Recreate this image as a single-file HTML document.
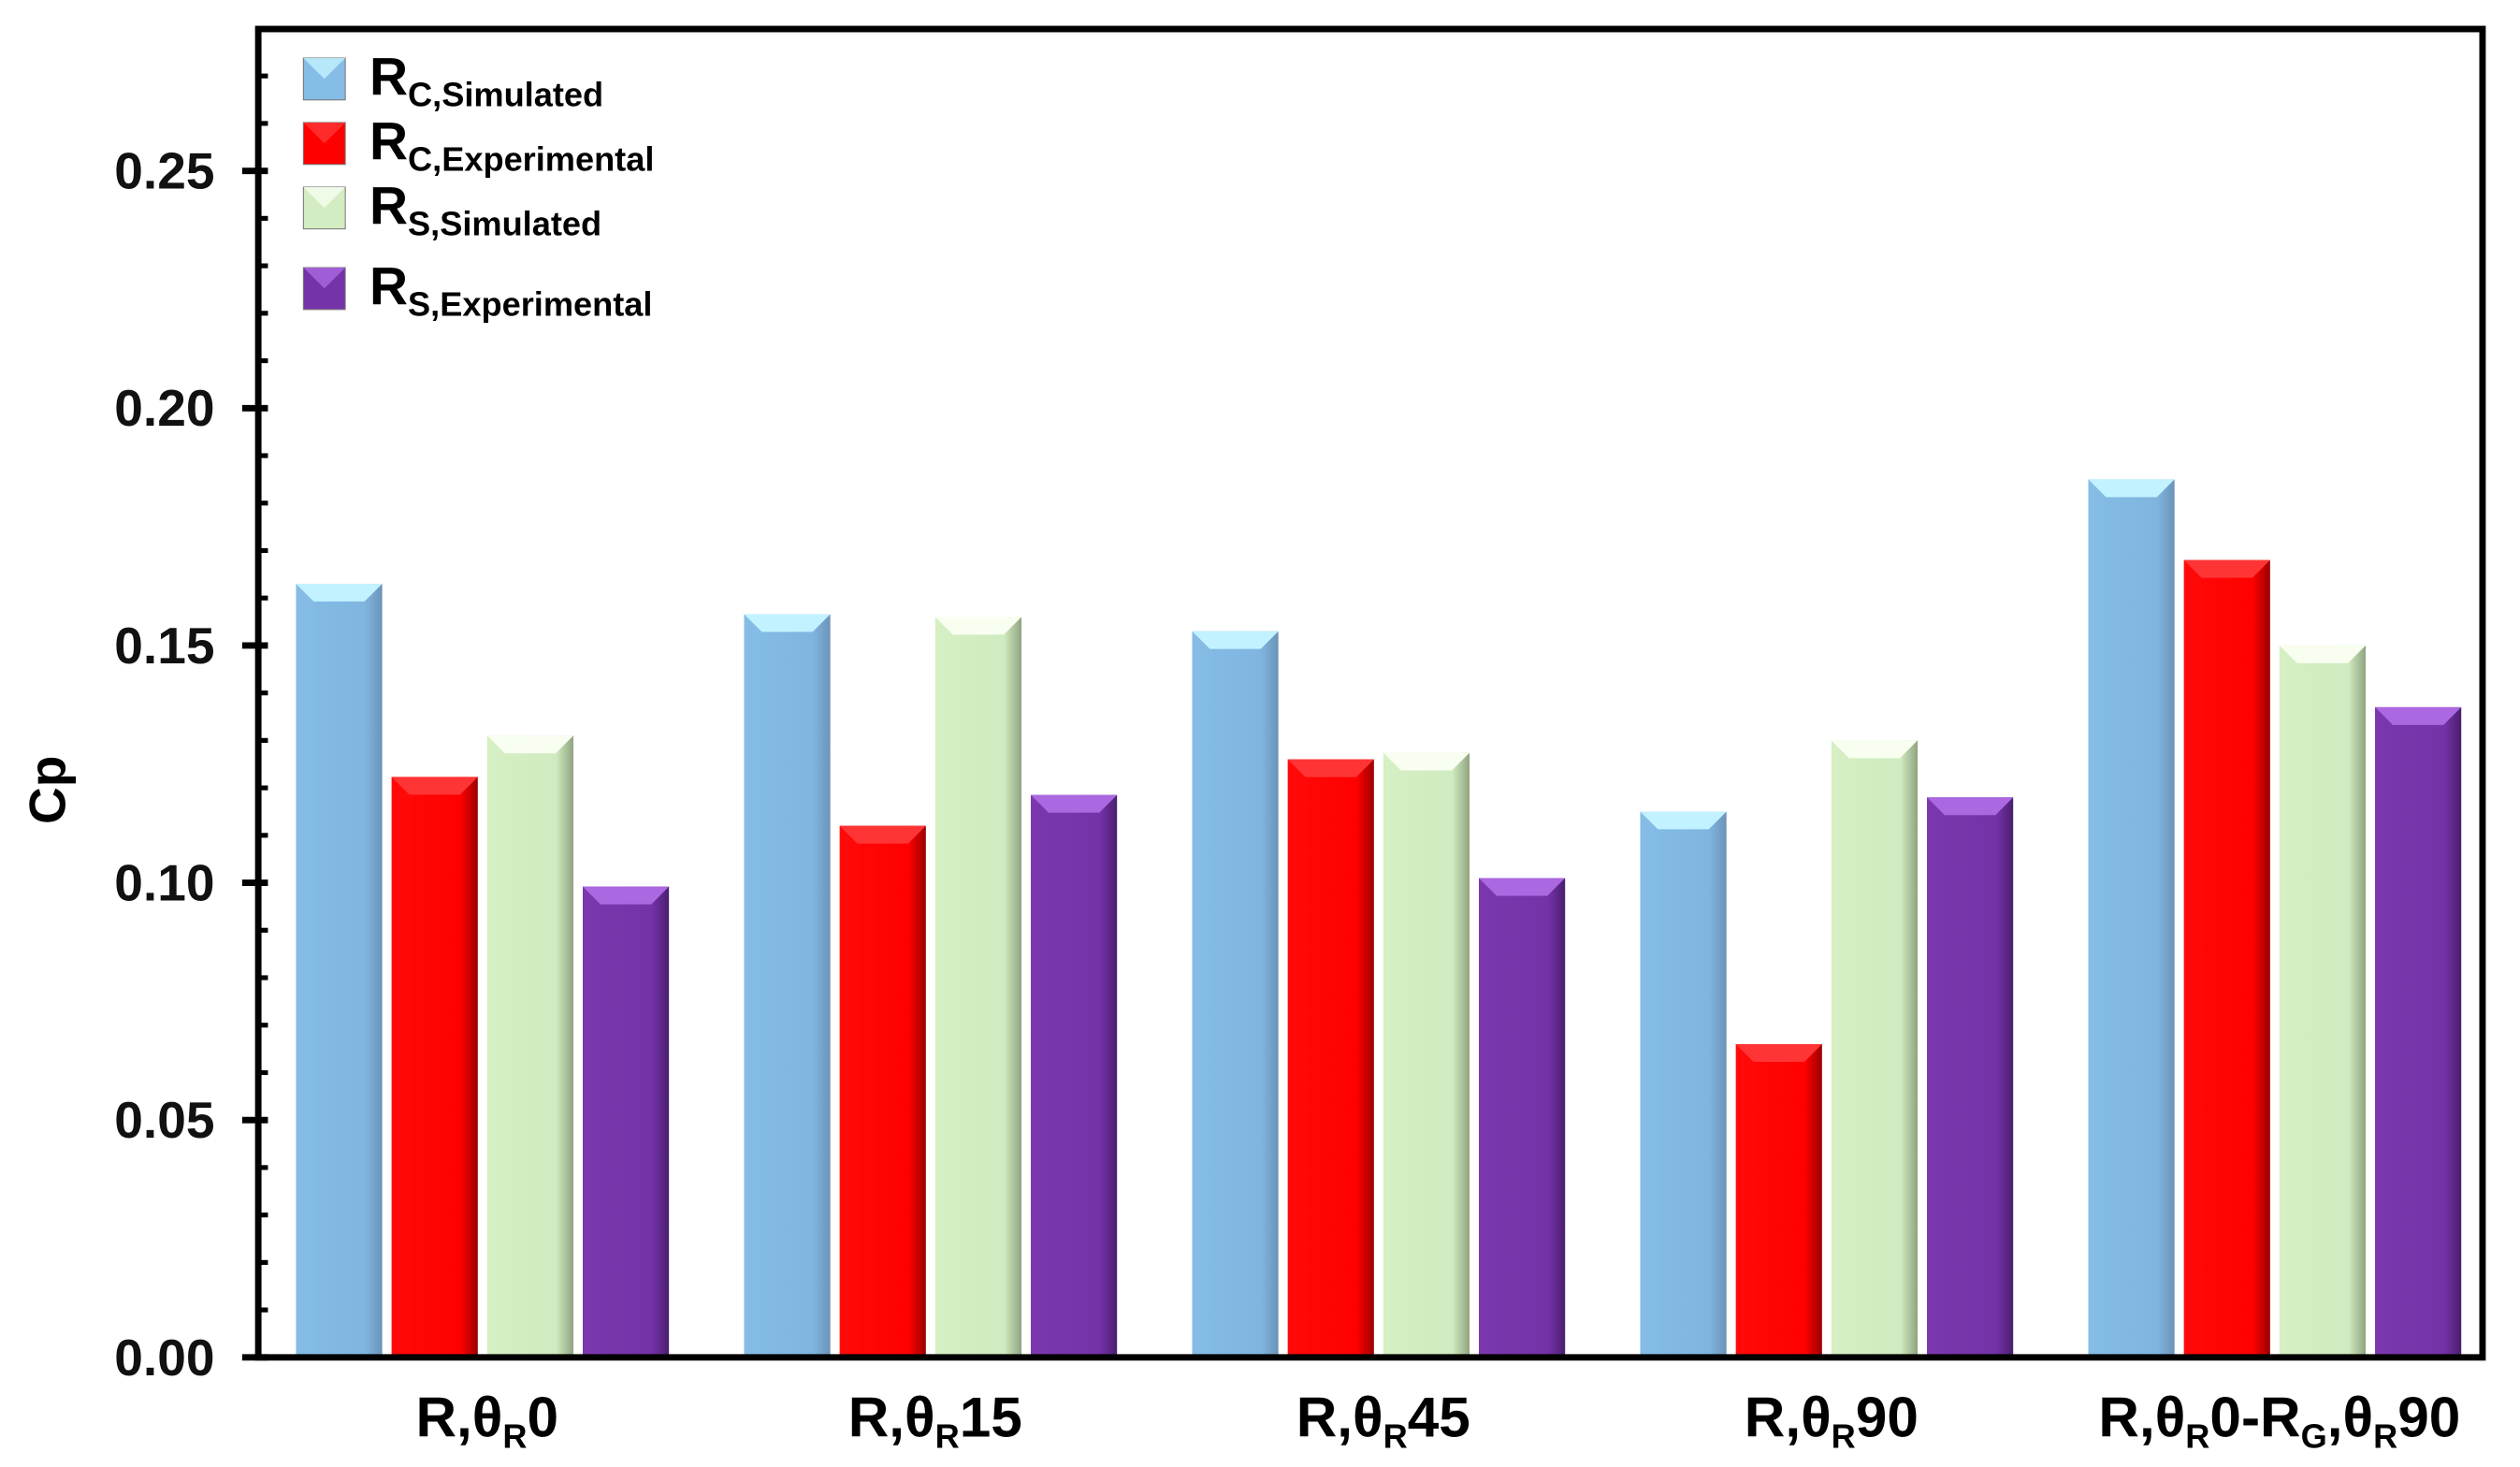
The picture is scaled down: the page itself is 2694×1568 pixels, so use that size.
<!DOCTYPE html>
<html><head><meta charset="utf-8">
<style>
html,body{margin:0;padding:0;background:#fff;}
svg{display:block;font-family:"Liberation Sans",Arial,sans-serif;font-weight:bold;}
</style></head>
<body>
<svg id="chart" width="2694" height="1568" viewBox="0 0 1563 910" xmlns="http://www.w3.org/2000/svg">
<defs>
<linearGradient id="gb" x1="0" x2="1"><stop offset="0" stop-color="#85bde6"/><stop offset="0.8" stop-color="#7fb5df"/><stop offset="1" stop-color="#6d93b8"/></linearGradient>
<linearGradient id="gr" x1="0" x2="1"><stop offset="0" stop-color="#ff0a0a"/><stop offset="0.8" stop-color="#ff0000"/><stop offset="1" stop-color="#9a0000"/></linearGradient>
<linearGradient id="gg" x1="0" x2="1"><stop offset="0" stop-color="#d6efc4"/><stop offset="0.8" stop-color="#d0ebbf"/><stop offset="1" stop-color="#8fa481"/></linearGradient>
<linearGradient id="gp" x1="0" x2="1"><stop offset="0" stop-color="#7b38ae"/><stop offset="0.8" stop-color="#7433a8"/><stop offset="1" stop-color="#4a1f70"/></linearGradient>
</defs>
<g id="bars"></g>
<g id="axes"></g>
<g id="legend"></g>
</svg>
<script>
const categories = ["R,θR0","R,θR15","R,θR45","R,θR90","R,θR0-RG,θR90"];
const rcSimulated = [0.163, 0.1566, 0.153, 0.115, 0.185];
const rcExperimental = [0.1223, 0.112, 0.126, 0.066, 0.168];
const rsSimulated = [0.131, 0.156, 0.1274, 0.130, 0.150];
const rsExperimental = [0.0992, 0.1185, 0.101, 0.118, 0.137];
const yTicks = ["0.00","0.05","0.10","0.15","0.20","0.25"];

const NS="http://www.w3.org/2000/svg";
const L=160,R=1540,T=18,B=842,YMAX=(B-T)/2944;
function y(v){return B-v*2944;}
function gx(i){return 299+i*278;}
const series=[
 {vals:rcSimulated,fill:"url(#gb)",top:"#c2f2ff",name:"rc-simulated"},
 {vals:rcExperimental,fill:"url(#gr)",top:"#ff3535",name:"rc-experimental"},
 {vals:rsSimulated,fill:"url(#gg)",top:"#f8fff0",name:"rs-simulated"},
 {vals:rsExperimental,fill:"url(#gp)",top:"#ab68e0",name:"rs-experimental"}];
function mk(tag,attrs,parent){const e=document.createElementNS(NS,tag);for(const k in attrs)e.setAttribute(k,attrs[k]);parent.appendChild(e);return e;}
const bars=document.getElementById('bars');
const bw=53.5,step=59.3;
categories.forEach((c,i)=>{
 series.forEach((s,j)=>{
  const x=gx(i)-2*step+j*step+3;const yt=y(s.vals[i]);const h=B-yt;
  const r=mk('rect',{x:x,y:yt,width:bw,height:h,fill:s.fill},bars);
  
  
  const t=mk('polygon',{points:`${x},${yt} ${x+bw},${yt} ${x+bw-11},${yt+11} ${x+11},${yt+11}`,fill:s.top},bars);
  
  
 });
});
const ax=document.getElementById('axes');
mk('rect',{x:L,y:T,width:R-L,height:B-T,fill:"none",stroke:"#000","stroke-width":4},ax);
for(let k=0;k*0.01<=YMAX;k++){
 const yy=y(k*0.01);
 if(k%5===0){mk('line',{x1:L-10,x2:L+6,y1:yy,y2:yy,stroke:"#000","stroke-width":4},ax);}
 else mk('line',{x1:L,x2:L+6,y1:yy,y2:yy,stroke:"#000","stroke-width":3},ax);
}
yTicks.forEach((t,k)=>{
 const e=mk('text',{x:133,y:y(parseFloat(t))+11,"text-anchor":"end","font-size":32,fill:"#111"},ax);
 e.textContent=t;
 
 
});
const yl=mk('text',{x:0,y:0,transform:"translate(40,490) rotate(-90)","text-anchor":"middle","font-size":32},ax);
yl.textContent="Cp";


const xl=[[["R,θ",0],["R",1],["0",0]],[["R,θ",0],["R",1],["15",0]],[["R,θ",0],["R",1],["45",0]],[["R,θ",0],["R",1],["90",0]],[["R,θ",0],["R",1],["0-R",0],["G",1],[",θ",0],["R",1],["90",0]]];
xl.forEach((parts,i)=>{
 const e=mk('text',{x:gx(i)+3,y:891,"text-anchor":"middle","font-size":35},ax);
 
 
 parts.forEach(p=>{const s=mk('tspan',{},e);s.textContent=p[0];
  if(p[1]){s.setAttribute('font-size',21);s.setAttribute('dy',7);}
  else if(s.previousSibling){s.setAttribute('dy',-7);} });
});
const lg=document.getElementById('legend');
const lcols=[["#85bde6","#c2f2ff"],["#ff0000","#ff3535"],["#d3ecc1","#f8fff0"],["#7433a8","#ab68e0"]];
const lsub=["C,Simulated","C,Experimental","S,Simulated","S,Experimental"];
const ly=[36,76,116,166];
lsub.forEach((s,k)=>{
 const g=mk('g',{},lg);
 
 
 mk('rect',{x:188,y:ly[k],width:26,height:26,fill:lcols[k][0],stroke:"#777","stroke-width":0.6},g);
 mk('polygon',{points:`188,${ly[k]} 214,${ly[k]} 201,${ly[k]+13}`,fill:lcols[k][1],opacity:0.8},g);
 const t=mk('text',{x:229,y:ly[k]+23,"font-size":33},g);
 const a=mk('tspan',{},t);a.textContent="R";
 const b=mk('tspan',{"font-size":21,dy:7},t);b.textContent=s;
});
</script>
</body></html>
